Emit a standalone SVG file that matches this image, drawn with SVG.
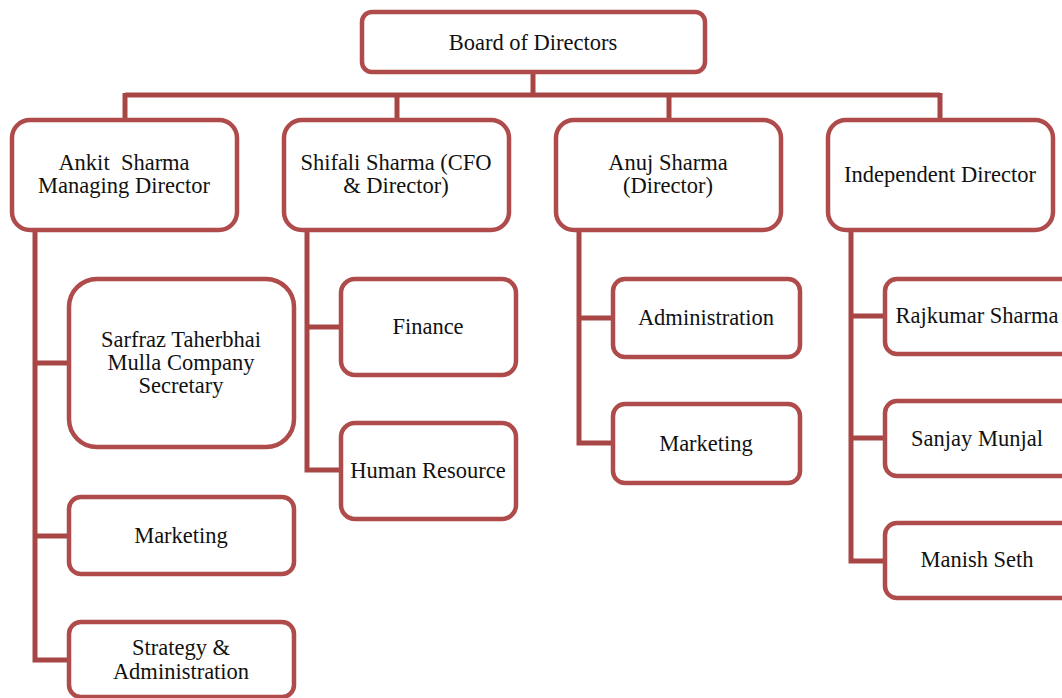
<svg xmlns="http://www.w3.org/2000/svg" width="1062" height="698" viewBox="0 0 1062 698">
<style>
.box{fill:#fff;stroke:#B04B4B;stroke-width:4.5}
.ln{fill:none;stroke:#A84646;stroke-width:5;stroke-linejoin:miter;stroke-linecap:butt}
text{font-family:"Liberation Serif","Times New Roman",serif;font-size:22.5px;fill:#111;text-anchor:middle}
</style>
<rect width="1062" height="698" fill="#fff"/>
<g id="connectors">
<path class="ln" d="M533 72V95M125 95H940M125 93V120M397 93V120M669 93V120M940 93V120"/>
<path class="ln" d="M35 230V660H69M35 363H69M35 536H69"/>
<path class="ln" d="M307 230V470H341M307 327H341"/>
<path class="ln" d="M579 230V443H613M579 318H613"/>
<path class="ln" d="M851 230V561H885M851 316H885M851 438H885"/>
</g>
<g id="board"><rect class="box" x="362" y="12" width="343" height="60" rx="10"/><text x="533" y="50">Board of Directors</text></g>
<g id="ankit"><rect class="box" x="12" y="120" width="225" height="110" rx="18"/><text x="124" y="170" xml:space="preserve">Ankit  Sharma</text><text x="124" y="193">Managing Director</text></g>
<g id="shifali"><rect class="box" x="284" y="120" width="225" height="110" rx="18"/><text x="396" y="170">Shifali Sharma (CFO</text><text x="396" y="193">&amp; Director)</text></g>
<g id="anuj"><rect class="box" x="556" y="120" width="225" height="110" rx="18"/><text x="668" y="170">Anuj Sharma</text><text x="668" y="193">(Director)</text></g>
<g id="independent"><rect class="box" x="828" y="120" width="225" height="110" rx="18"/><text x="940" y="182">Independent Director</text></g>
<g id="sarfraz"><rect class="box" x="69" y="279" width="225" height="168" rx="28"/><text x="181" y="347">Sarfraz Taherbhai</text><text x="181" y="370">Mulla Company</text><text x="181" y="393">Secretary</text></g>
<g id="marketing1"><rect class="box" x="69" y="497" width="225" height="77" rx="12"/><text x="181" y="543">Marketing</text></g>
<g id="strategy"><rect class="box" x="69" y="622" width="225" height="75" rx="12"/><text x="181" y="655">Strategy &amp;</text><text x="181" y="679">Administration</text></g>
<g id="finance"><rect class="box" x="341" y="279" width="175" height="96" rx="14"/><text x="428" y="334">Finance</text></g>
<g id="hr"><rect class="box" x="341" y="423" width="175" height="96" rx="14"/><text x="428" y="478">Human Resource</text></g>
<g id="administration"><rect class="box" x="613" y="279" width="187" height="78" rx="12"/><text x="706" y="325">Administration</text></g>
<g id="marketing2"><rect class="box" x="613" y="404" width="187" height="79" rx="12"/><text x="706" y="451">Marketing</text></g>
<g id="rajkumar"><rect class="box" x="885" y="279" width="200" height="75" rx="12"/><text x="977" y="323">Rajkumar Sharma</text></g>
<g id="sanjay"><rect class="box" x="885" y="401" width="200" height="75" rx="12"/><text x="977" y="446">Sanjay Munjal</text></g>
<g id="manish"><rect class="box" x="885" y="523" width="200" height="75" rx="12"/><text x="977" y="567">Manish Seth</text></g>
</svg>
